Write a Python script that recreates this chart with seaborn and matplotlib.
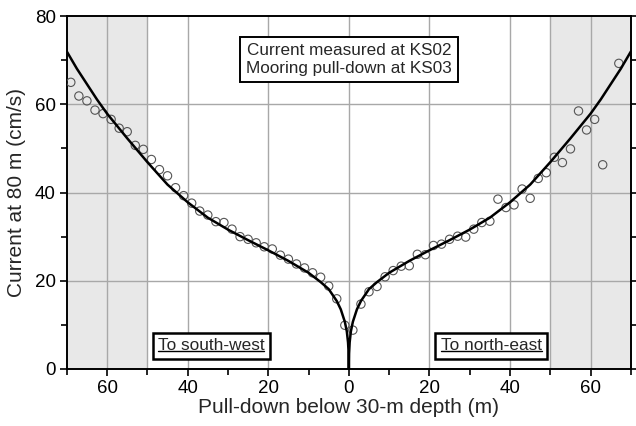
import matplotlib
matplotlib.use('Agg')
import matplotlib.pyplot as plt
import seaborn as sns
import pandas as pd
from matplotlib.lines import Line2D

# measured points, south-west side (negative) and north-east side (positive)
sw_pulldown = [-69, -67, -65, -63, -61, -59, -57, -55, -53, -51, -49, -47, -45, -43, -41,
               -39, -37, -35, -33, -31, -29, -27, -25, -23, -21, -19, -17, -15, -13, -11,
               -9, -7, -5, -3, -1]
sw_current = [65.0, 61.9, 60.8, 58.7, 57.9, 56.6, 54.6, 53.8, 50.7, 49.8, 47.5, 45.2, 43.8, 41.1, 39.3,
              37.6, 35.8, 34.9, 33.4, 33.2, 31.7, 30.0, 29.4, 28.6, 27.7, 27.2, 25.8, 24.9, 23.8, 22.9,
              21.8, 20.8, 18.8, 15.9, 9.9]
ne_pulldown = [1, 3, 5, 7, 9, 11, 13, 15, 17, 19, 21, 23, 25, 27, 29, 31, 33, 35, 37, 39,
               41, 43, 45, 47, 49, 51, 53, 55, 57, 59, 61, 63, 67]
ne_current = [8.8, 14.7, 17.5, 18.7, 20.9, 22.3, 23.3, 23.4, 26.0, 25.9, 28.0, 28.3, 29.4, 30.1, 29.9,
              31.7, 33.2, 33.5, 38.5, 36.6, 37.2, 40.8, 38.7, 43.2, 44.5, 48.0, 46.8, 49.9, 58.5,
              54.2, 56.6, 46.3, 69.3]

# fitted curve
curve_x = [-70, -67.5, -65, -62.5, -60, -55, -50, -45, -40, -35, -30, -25, -20, -15, -10, -7, -5,
           -3, -2, -1, -0.5, -0.2, -0.05, 0, 0.05, 0.2, 0.5, 1, 2, 3, 5, 7, 10, 15, 20, 25, 30,
           35, 40, 45, 50, 55, 60, 62.5, 65, 67.5, 70]
curve_y = [72.0, 68.1, 64.6, 61.1, 57.9, 52.3, 46.9, 41.8, 37.8, 34.3, 31.6, 29.2, 26.9, 24.5, 21.8,
           19.7, 18.1, 15.4, 13.5, 10.7, 8.5, 6.0, 3.5, 0.0, 3.5, 6.0, 8.5, 10.7, 13.5, 15.4, 18.1,
           19.7, 21.8, 24.5, 26.9, 29.2, 31.6, 34.3, 37.8, 41.8, 46.9, 52.3, 57.9, 61.1, 64.6,
           68.1, 72.0]

xticks = [-60, -40, -20, 0, 20, 40, 60]
xticklabels = ['60', '40', '20', '0', '20', '40', '60']

points = pd.DataFrame({'pulldown': sw_pulldown + ne_pulldown,
                       'current': sw_current + ne_current})
curve = pd.DataFrame({'pulldown': curve_x, 'current': curve_y})

sns.set_style('ticks')
plt.rcParams['font.family'] = ['Liberation Sans', 'DejaVu Sans']

fig = plt.figure(figsize=(6.36, 4.26), dpi=100)
ax = fig.add_axes([0.105, 0.134, 0.887, 0.828])

ax.axvspan(-70, -50, color='#e8e8e8', lw=0, zorder=0)
ax.axvspan(50, 70, color='#e8e8e8', lw=0, zorder=0)
for gx in xticks + [-50, 50]:
    ax.axvline(gx, color='#a8a8a8', lw=1, zorder=0.5)
for gy in [20, 40, 60]:
    ax.axhline(gy, color='#a8a8a8', lw=1, zorder=0.5)

sns.scatterplot(data=points, x='pulldown', y='current', ax=ax, marker='o', s=36,
                facecolor='none', edgecolor='#555555', linewidth=0.8, zorder=3)
sns.lineplot(data=curve, x='pulldown', y='current', ax=ax, sort=False, estimator=None,
             color='black', lw=1.8, zorder=4)

ax.set_xlim(-70, 70)
ax.set_ylim(0, 80)
ax.set_xticks(xticks)
ax.set_xticklabels(xticklabels)
ax.set_xticks(range(-70, 71, 10), minor=True)
ax.set_yticks([0, 20, 40, 60, 80])
ax.set_yticks([10, 30, 50, 70], minor=True)
ax.tick_params(which='both', direction='out', labelsize=13.5, width=1.2, right=True,
               colors='black', pad=3)
ax.tick_params(which='major', length=5)
ax.tick_params(which='minor', length=4)
for sp in ax.spines.values():
    sp.set_visible(True)
    sp.set_linewidth(1.4)
    sp.set_color('black')

ax.set_xlabel('Pull-down below 30-m depth (m)', fontsize=15, labelpad=1)
ax.set_ylabel('Current at 80 m (cm/s)', fontsize=15, labelpad=6)

ax.text(0, 70.2, 'Current measured at KS02\nMooring pull-down at KS03', ha='center', va='center',
        fontsize=12.3, linespacing=1.2, zorder=6,
        bbox=dict(boxstyle='square,pad=0.35', fc='white', ec='black', lw=1.4))

labels = []
for lx, txt in [(-34.2, 'To south-west'), (35.3, 'To north-east')]:
    t = ax.text(lx, 5.2, txt, ha='center', va='center', fontsize=12.4, zorder=6,
                bbox=dict(boxstyle='square,pad=0.3', fc='white', ec='black', lw=1.8))
    labels.append(t)

fig.canvas.draw()
for t in labels:
    bb = t.get_window_extent()
    ly = bb.y0 + 2.5
    fig.add_artist(Line2D([bb.x0 / fig.bbox.width, bb.x1 / fig.bbox.width],
                          [ly / fig.bbox.height, ly / fig.bbox.height],
                          transform=fig.transFigure, color='black', lw=1.0, zorder=7))

fig.savefig('out.png', dpi=100)
